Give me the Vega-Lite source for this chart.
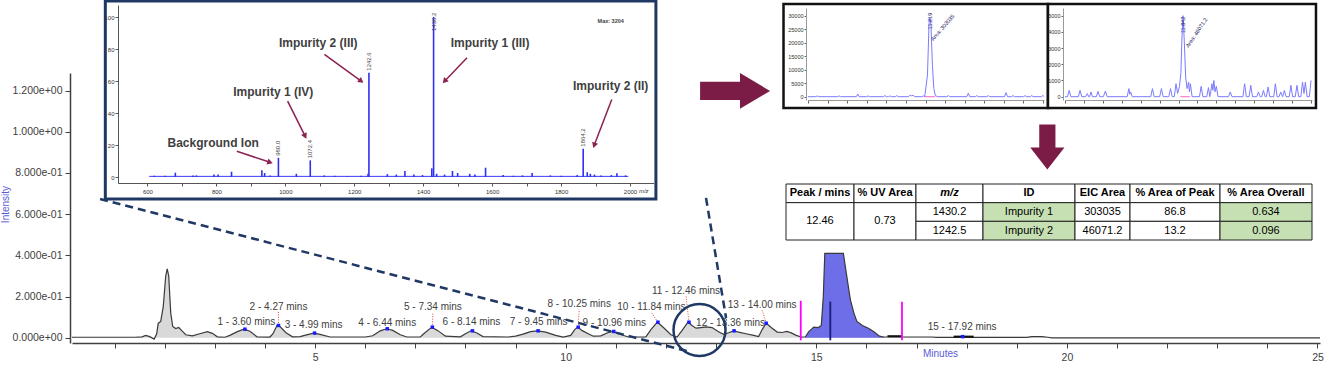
{
  "$schema": "https://vega.github.io/schema/vega-lite/v6.json",
  "width": 1327,
  "height": 367,
  "autosize": "none",
  "padding": 0,
  "background": "white",
  "config": {
    "view": {"stroke": null},
    "font": "Liberation Sans",
    "axis": {"grid": false, "labelFont": "Liberation Sans", "titleFont": "Liberation Sans", "labelFlush": false, "labelOverlap": false},
    "text": {"font": "Liberation Sans"}
  },
  "datasets": {
    "trace": [
      {"t":0.15,"v":0.003},{"t":1.4,"v":0.003},{"t":1.55,"v":0.005},{"t":1.62,"v":0.012},{"t":1.7,"v":0.006},{"t":1.79,"v":-0.006},{"t":1.84,"v":0.02},{"t":1.87,"v":0.07},{"t":1.92,"v":0.08},{"t":1.97,"v":0.15},{"t":2.02,"v":0.3},{"t":2.05,"v":0.335},{"t":2.08,"v":0.3},{"t":2.12,"v":0.12},{"t":2.16,"v":0.055},{"t":2.22,"v":0.045},{"t":2.28,"v":0.05},{"t":2.34,"v":0.035},{"t":2.42,"v":0.015},{"t":2.55,"v":0.01},{"t":2.7,"v":0.02},{"t":2.85,"v":0.03},{"t":2.95,"v":0.022},{"t":3.05,"v":0.005},{"t":3.2,"v":0.003},{"t":3.3,"v":0.012},{"t":3.45,"v":0.03},{"t":3.58,"v":0.042},{"t":3.7,"v":0.032},{"t":3.84,"v":0.005},{"t":4.1,"v":0.004},{"t":4.16,"v":0.02},{"t":4.24,"v":0.06},{"t":4.3,"v":0.055},{"t":4.42,"v":0.025},{"t":4.55,"v":0.005},{"t":4.7,"v":0.006},{"t":4.85,"v":0.016},{"t":4.97,"v":0.023},{"t":5.1,"v":0.017},{"t":5.3,"v":0.004},{"t":6.0,"v":0.004},{"t":6.15,"v":0.01},{"t":6.3,"v":0.034},{"t":6.43,"v":0.044},{"t":6.55,"v":0.036},{"t":6.7,"v":0.015},{"t":6.83,"v":0.004},{"t":7.1,"v":0.004},{"t":7.18,"v":0.022},{"t":7.33,"v":0.052},{"t":7.45,"v":0.035},{"t":7.6,"v":0.008},{"t":7.9,"v":0.005},{"t":8.0,"v":0.02},{"t":8.11,"v":0.034},{"t":8.22,"v":0.025},{"t":8.35,"v":0.006},{"t":8.85,"v":0.004},{"t":9.0,"v":0.008},{"t":9.15,"v":0.018},{"t":9.3,"v":0.03},{"t":9.44,"v":0.034},{"t":9.6,"v":0.028},{"t":9.8,"v":0.012},{"t":9.95,"v":0.004},{"t":10.1,"v":0.012},{"t":10.18,"v":0.04},{"t":10.24,"v":0.052},{"t":10.33,"v":0.035},{"t":10.45,"v":0.02},{"t":10.55,"v":0.008},{"t":10.7,"v":0.01},{"t":10.85,"v":0.026},{"t":10.94,"v":0.031},{"t":11.05,"v":0.02},{"t":11.25,"v":0.004},{"t":11.6,"v":0.005},{"t":11.7,"v":0.04},{"t":11.83,"v":0.076},{"t":11.95,"v":0.05},{"t":12.1,"v":0.015},{"t":12.22,"v":0.004},{"t":12.32,"v":0.035},{"t":12.44,"v":0.076},{"t":12.52,"v":0.06},{"t":12.6,"v":0.047},{"t":12.7,"v":0.05},{"t":12.8,"v":0.053},{"t":12.92,"v":0.05},{"t":13.05,"v":0.03},{"t":13.15,"v":0.017},{"t":13.25,"v":0.025},{"t":13.35,"v":0.034},{"t":13.45,"v":0.028},{"t":13.6,"v":0.02},{"t":13.75,"v":0.012},{"t":13.85,"v":0.006},{"t":13.92,"v":0.04},{"t":14.0,"v":0.071},{"t":14.1,"v":0.05},{"t":14.22,"v":0.028},{"t":14.32,"v":0.026},{"t":14.41,"v":0.031},{"t":14.5,"v":0.024},{"t":14.6,"v":0.012},{"t":14.7,"v":0.004},{"t":14.78,"v":0.004},{"t":14.85,"v":0.03},{"t":14.95,"v":0.052},{"t":15.04,"v":0.05},{"t":15.1,"v":0.06},{"t":15.14,"v":0.2},{"t":15.17,"v":0.41},{"t":15.54,"v":0.41},{"t":15.62,"v":0.28},{"t":15.68,"v":0.185},{"t":15.75,"v":0.12},{"t":15.81,"v":0.08},{"t":15.92,"v":0.06},{"t":16.04,"v":0.047},{"t":16.15,"v":0.03},{"t":16.26,"v":0.008},{"t":16.35,"v":0.004},{"t":17.3,"v":0.004},{"t":17.4,"v":0.002},{"t":19.2,"v":0.002},{"t":19.3,"v":0.006},{"t":19.5,"v":0.006},{"t":19.62,"v":0.003},{"t":19.7,"v":0.0},{"t":25.05,"v":0.0}
    ],
    "peaks": [
      {"n":1,"rt":3.60,"h":0.042,"lx":3.63,"lb":0.052,"leader":false,"label":"1 - 3.60 mins"},
      {"n":2,"rt":4.27,"h":0.06,"lx":4.27,"lb":0.126,"leader":true,"label":"2 - 4.27 mins"},
      {"n":3,"rt":4.99,"h":0.023,"lx":4.97,"lb":0.037,"leader":false,"label":"3 - 4.99 mins"},
      {"n":4,"rt":6.44,"h":0.044,"lx":6.44,"lb":0.05,"leader":false,"label":"4 - 6.44 mins"},
      {"n":5,"rt":7.34,"h":0.052,"lx":7.35,"lb":0.123,"leader":true,"label":"5 - 7.34 mins"},
      {"n":6,"rt":8.14,"h":0.034,"lx":8.12,"lb":0.053,"leader":false,"label":"6 - 8.14 mins"},
      {"n":7,"rt":9.45,"h":0.034,"lx":9.46,"lb":0.053,"leader":false,"label":"7 - 9.45 mins"},
      {"n":8,"rt":10.25,"h":0.052,"lx":10.27,"lb":0.138,"leader":true,"label":"8 - 10.25 mins"},
      {"n":9,"rt":10.96,"h":0.031,"lx":10.97,"lb":0.05,"leader":false,"label":"9 - 10.96 mins"},
      {"n":10,"rt":11.84,"h":0.076,"lx":11.71,"lb":0.123,"leader":true,"label":"10 - 11.84 mins"},
      {"n":11,"rt":12.46,"h":0.076,"lx":12.40,"lb":0.204,"leader":true,"label":"11 - 12.46 mins"},
      {"n":12,"rt":13.36,"h":0.034,"lx":13.29,"lb":0.05,"leader":false,"label":"12 - 13.36 mins"},
      {"n":13,"rt":14.00,"h":0.071,"lx":13.92,"lb":0.134,"leader":true,"label":"13 - 14.00 mins"},
      {"n":15,"rt":17.92,"h":0.006,"lx":17.91,"lb":0.026,"leader":false,"label":"15 - 17.92 mins"}
    ],
    "basesegs": [{"t0":16.42,"t1":16.71,"v":0.008},{"t0":17.74,"t1":18.14,"v":0.006}],
    "markers": [
      {"t":14.69,"lo":-0.012,"hi":0.18,"kind":"limit"},
      {"t":16.71,"lo":-0.012,"hi":0.175,"kind":"limit"},
      {"t":15.28,"lo":-0.012,"hi":0.176,"kind":"apex"}
    ],
    "zoomlines": [
      {"t0":0.71,"v0":0.674,"t1":12.42,"v1":-0.064},
      {"t0":12.8,"v0":0.679,"t1":13.2,"v1":0.096}
    ],
    "zoomcircle": [{"t":12.67,"v":0.038}],
    "rightarrow": [{"t":13.38,"v":1.198}],
    "downarrow": [{"t":19.61,"v":0.926}],
    "insetframe": [{"x0":477.8,"x1":2075.2,"y0":-13.75,"y1":110}],
    "msbase": [{"x0":605,"x1":1995,"y":0.4}],
    "msmax": [{"mz":1944,"pct":97.5,"text":"Max: 3204"}],
    "msunit": [{"mz":2040,"pct":-9,"text":"m/z"}],
    "ms": [
      {"mz":620,"pct":0.8},{"mz":651,"pct":0.8},{"mz":681,"pct":2.7},{"mz":732,"pct":1},{"mz":742,"pct":1},{"mz":793,"pct":1.5},{"mz":805,"pct":1.5},{"mz":844,"pct":3.3},{"mz":932,"pct":4.2},{"mz":940,"pct":2.5},{"mz":956,"pct":1},{"mz":980,"pct":12},{"mz":1032,"pct":2},{"mz":1072.4,"pct":10.4},{"mz":1113,"pct":1},{"mz":1144,"pct":0.8},{"mz":1180,"pct":0.5},{"mz":1220,"pct":0.8},{"mz":1240,"pct":2},{"mz":1242.6,"pct":65.2},{"mz":1296,"pct":1.8},{"mz":1322,"pct":1.5},{"mz":1347,"pct":3.75},{"mz":1373,"pct":1.5},{"mz":1398,"pct":1.2},{"mz":1425,"pct":5.4},{"mz":1430.2,"pct":100},{"mz":1439,"pct":2},{"mz":1462,"pct":1.5},{"mz":1485,"pct":3.75},{"mz":1500,"pct":2.5},{"mz":1535,"pct":2},{"mz":1550,"pct":1.5},{"mz":1581,"pct":5.8},{"mz":1632,"pct":1.2},{"mz":1662,"pct":0.8},{"mz":1688,"pct":1},{"mz":1716,"pct":2.5},{"mz":1769,"pct":1},{"mz":1800,"pct":0.8},{"mz":1847,"pct":1.2},{"mz":1864.2,"pct":17.7},{"mz":1876,"pct":3},{"mz":1885,"pct":2},{"mz":1897,"pct":1.5},{"mz":1916,"pct":1},{"mz":1946,"pct":1.2},{"mz":1962,"pct":2.3},{"mz":1987,"pct":1}
    ],
    "mslab": [
      {"mz":980,"pct":12,"label":"980.0"},
      {"mz":1072.4,"pct":10.4,"label":"1072.4"},
      {"mz":1242.6,"pct":65.2,"label":"1242.6"},
      {"mz":1430.2,"pct":90,"label":"1430.2"},
      {"mz":1864.2,"pct":17.7,"label":"1864.2"}
    ],
    "msnote": [
      {"text":"Background Ion","mz":790.6,"pct":21.4},
      {"text":"Impurity 1 (IV)","mz":965,"pct":53.3},
      {"text":"Impurity 2 (III)","mz":1095.6,"pct":83.5},
      {"text":"Impurity 1 (III)","mz":1594.2,"pct":83.5},
      {"text":"Impurity 2 (II)","mz":1944,"pct":56.9}
    ],
    "msarrow": [
      {"id":"bg","mz":859.3,"pct":16.1,"mz2":955.8,"pct2":9.2},
      {"id":"i1iv","mz":1006.7,"pct":47.4,"mz2":1057.5,"pct2":25.5},
      {"id":"i2iii","mz":1113.4,"pct":76.6,"mz2":1220.2,"pct2":59.9},
      {"id":"i1iii","mz":1527.2,"pct":74.5,"mz2":1462.1,"pct2":59.9},
      {"id":"i2ii","mz":1947.1,"pct":48.4,"mz2":1896.2,"pct2":19.8}
    ],
    "eic1frame": [{"x0":-2.5,"x1":24.5,"y0":-4185,"y1":34333}],
    "eic1base": [{"x0":11.9,"x1":13.0,"y":0}],
    "eic1rt": [{"t":12.46,"c":25000,"text":"11.219"}],
    "eic1area": [{"t":12.63,"c":21000,"text":"Area: 303035"}],
    "eic2frame": [{"x0":-1.8,"x1":26.52,"y0":-698,"y1":5722}],
    "eic2base": [{"x0":12.2,"x1":13.2,"y":0}],
    "eic2rt": [{"t":12.47,"c":3930,"text":"11.842"}],
    "eic2area": [{"t":12.87,"c":3070,"text":"Area: 46071.2"}],
    "eic1": [
      {"t":0,"c":0},{"t":0.8,"c":0},{"t":0.95,"c":300},{"t":1.1,"c":0},{"t":3.02,"c":0},{"t":3.17,"c":300},{"t":3.32,"c":0},{"t":4.93,"c":0},{"t":5.08,"c":1000},{"t":5.23,"c":0},{"t":5.98,"c":0},{"t":6.13,"c":300},{"t":6.28,"c":0},{"t":7.71,"c":0},{"t":7.86,"c":400},{"t":8.01,"c":0},{"t":8.22,"c":0},{"t":8.37,"c":300},{"t":8.52,"c":0},{"t":8.91,"c":0},{"t":9.06,"c":400},{"t":9.21,"c":0},{"t":10.27,"c":0},{"t":10.42,"c":600},{"t":10.57,"c":350},{"t":10.75,"c":500},{"t":10.9,"c":0},{"t":11.62,"c":0},{"t":11.77,"c":300},{"t":11.92,"c":0},{"t":12.2,"c":8000},{"t":12.36,"c":27000},{"t":12.46,"c":29500},{"t":12.56,"c":26000},{"t":12.7,"c":12000},{"t":12.85,"c":3000},{"t":13.0,"c":500},{"t":13.2,"c":0},{"t":14.18,"c":0},{"t":14.33,"c":400},{"t":14.48,"c":0},{"t":16.22,"c":0},{"t":16.37,"c":1300},{"t":16.52,"c":0},{"t":17.08,"c":0},{"t":17.23,"c":400},{"t":17.38,"c":0},{"t":18.26,"c":0},{"t":18.41,"c":400},{"t":18.56,"c":0},{"t":20.07,"c":0},{"t":20.22,"c":1500},{"t":20.37,"c":0},{"t":20.78,"c":0},{"t":20.93,"c":400},{"t":21.08,"c":0},{"t":22.01,"c":0},{"t":22.16,"c":400},{"t":22.31,"c":0},{"t":22.69,"c":0},{"t":22.84,"c":400},{"t":22.99,"c":0},{"t":23.85,"c":0},{"t":24.0,"c":500},{"t":24.1,"c":0}
    ],
    "eic2": [
      {"t":0,"c":0},{"t":0.26,"c":0},{"t":0.44,"c":390},{"t":0.62,"c":0},{"t":1.41,"c":0},{"t":1.59,"c":390},{"t":1.77,"c":0},{"t":2.18,"c":0},{"t":2.36,"c":190},{"t":2.5,"c":0},{"t":2.6,"c":0},{"t":2.75,"c":290},{"t":2.9,"c":0},{"t":3.31,"c":0},{"t":3.49,"c":330},{"t":3.67,"c":0},{"t":4.05,"c":0},{"t":4.27,"c":350},{"t":4.45,"c":0},{"t":6.57,"c":0},{"t":6.75,"c":500},{"t":6.85,"c":150},{"t":6.94,"c":290},{"t":7.1,"c":0},{"t":9.06,"c":0},{"t":9.24,"c":500},{"t":9.42,"c":0},{"t":10.01,"c":0},{"t":10.19,"c":500},{"t":10.37,"c":0},{"t":10.97,"c":0},{"t":11.15,"c":500},{"t":11.33,"c":0},{"t":11.55,"c":0},{"t":11.73,"c":800},{"t":11.9,"c":200},{"t":12.1,"c":640},{"t":12.25,"c":1500},{"t":12.35,"c":3500},{"t":12.47,"c":5000},{"t":12.6,"c":3500},{"t":12.75,"c":1200},{"t":12.9,"c":500},{"t":13.06,"c":900},{"t":13.15,"c":300},{"t":13.25,"c":800},{"t":13.43,"c":0},{"t":14.21,"c":0},{"t":14.39,"c":640},{"t":14.57,"c":0},{"t":14.98,"c":0},{"t":15.16,"c":560},{"t":15.3,"c":0},{"t":15.4,"c":300},{"t":15.53,"c":800},{"t":15.63,"c":400},{"t":15.73,"c":1000},{"t":15.85,"c":300},{"t":15.99,"c":640},{"t":16.17,"c":0},{"t":17.28,"c":0},{"t":17.46,"c":290},{"t":17.64,"c":0},{"t":18.8,"c":0},{"t":18.98,"c":800},{"t":19.16,"c":0},{"t":19.45,"c":0},{"t":19.63,"c":700},{"t":19.81,"c":0},{"t":20.26,"c":0},{"t":20.44,"c":290},{"t":20.62,"c":0},{"t":20.79,"c":0},{"t":20.97,"c":390},{"t":21.15,"c":0},{"t":21.28,"c":0},{"t":21.46,"c":600},{"t":21.64,"c":0},{"t":22.05,"c":0},{"t":22.23,"c":800},{"t":22.41,"c":0},{"t":22.62,"c":0},{"t":22.8,"c":290},{"t":22.98,"c":0},{"t":23.0,"c":0},{"t":23.18,"c":390},{"t":23.36,"c":0},{"t":23.69,"c":0},{"t":23.87,"c":700},{"t":24.05,"c":0},{"t":24.33,"c":0},{"t":24.51,"c":700},{"t":24.69,"c":0},{"t":24.92,"c":0},{"t":25.1,"c":900},{"t":25.25,"c":200},{"t":25.4,"c":900},{"t":25.58,"c":0},{"t":25.82,"c":0},{"t":26.0,"c":1000}
    ],
    "cells": [
      {"text":"Peak / mins","part":"head","hl":"no","x0":0,"x1":12.93,"xm":6.46,"r0":0,"r1":1,"rm":0.5},
      {"text":"% UV Area","part":"head","hl":"no","x0":12.93,"x1":24.71,"xm":18.82,"r0":0,"r1":1,"rm":0.5},
      {"text":"m/z","part":"headital","hl":"no","x0":24.71,"x1":37.45,"xm":31.08,"r0":0,"r1":1,"rm":0.5},
      {"text":"ID","part":"head","hl":"no","x0":37.45,"x1":54.94,"xm":46.2,"r0":0,"r1":1,"rm":0.5},
      {"text":"EIC Area","part":"head","hl":"no","x0":54.94,"x1":65.4,"xm":60.17,"r0":0,"r1":1,"rm":0.5},
      {"text":"% Area of Peak","part":"head","hl":"no","x0":65.4,"x1":82.51,"xm":73.95,"r0":0,"r1":1,"rm":0.5},
      {"text":"% Area Overall","part":"head","hl":"no","x0":82.51,"x1":100,"xm":91.25,"r0":0,"r1":1,"rm":0.5},
      {"text":"12.46","part":"body","hl":"no","x0":0,"x1":12.93,"xm":6.46,"r0":1,"r1":3,"rm":2},
      {"text":"0.73","part":"body","hl":"no","x0":12.93,"x1":24.71,"xm":18.82,"r0":1,"r1":3,"rm":2},
      {"text":"1430.2","part":"body","hl":"no","x0":24.71,"x1":37.45,"xm":31.08,"r0":1,"r1":2,"rm":1.5},
      {"text":"Impurity 1","part":"body","hl":"yes","x0":37.45,"x1":54.94,"xm":46.2,"r0":1,"r1":2,"rm":1.5},
      {"text":"303035","part":"body","hl":"no","x0":54.94,"x1":65.4,"xm":60.17,"r0":1,"r1":2,"rm":1.5},
      {"text":"86.8","part":"body","hl":"no","x0":65.4,"x1":82.51,"xm":73.95,"r0":1,"r1":2,"rm":1.5},
      {"text":"0.634","part":"body","hl":"yes","x0":82.51,"x1":100,"xm":91.25,"r0":1,"r1":2,"rm":1.5},
      {"text":"1242.5","part":"body","hl":"no","x0":24.71,"x1":37.45,"xm":31.08,"r0":2,"r1":3,"rm":2.5},
      {"text":"Impurity 2","part":"body","hl":"yes","x0":37.45,"x1":54.94,"xm":46.2,"r0":2,"r1":3,"rm":2.5},
      {"text":"46071.2","part":"body","hl":"no","x0":54.94,"x1":65.4,"xm":60.17,"r0":2,"r1":3,"rm":2.5},
      {"text":"13.2","part":"body","hl":"no","x0":65.4,"x1":82.51,"xm":73.95,"r0":2,"r1":3,"rm":2.5},
      {"text":"0.096","part":"body","hl":"yes","x0":82.51,"x1":100,"xm":91.25,"r0":2,"r1":3,"rm":2.5}
    ]
  },
  "resolve": {"scale": {"x": "independent", "y": "independent"}, "axis": {"x": "independent", "y": "independent"}},
  "layer": [
    {
      "layer": [
        {
          "data": {"name": "trace"},
          "mark": {"type": "area", "color": "#d9d9d9"},
          "encoding": {
            "x": {"field": "t", "type": "quantitative",
              "scale": {"domain": [0.15, 25.05], "range": [72, 1320], "zero": false, "nice": false},
              "axis": {"orient": "bottom", "offset": -24, "values": [1,2,3,4,5,6,7,8,9,10,11,12,13,14,15,16,17,18,19,20,21,22,23,24,25],
                "labelExpr": "datum.value % 5 === 0 ? datum.label : ''",
                "labelFontSize": 10.5, "labelColor": "#404040", "labelPadding": 4,
                "tickSize": 5, "tickColor": "#404040", "domainColor": "#404040", "domainWidth": 1.5,
                "title": "Minutes", "titleX": 940, "titleY": 10, "titleAlign": "center", "titleBaseline": "middle",
                "titleColor": "#5b5bd6", "titleFontSize": 10, "titleFontWeight": "normal"}},
            "y": {"field": "v", "type": "quantitative",
              "scale": {"domain": [-0.025, 1.285], "range": [343, 73], "zero": false, "nice": false},
              "axis": {"orient": "left", "offset": -70,
                "values": [0,0.05,0.1,0.15,0.2,0.25,0.3,0.35,0.4,0.45,0.5,0.55,0.6,0.65,0.7,0.75,0.8,0.85,0.9,0.95,1,1.05,1.1,1.15,1.2,1.25],
                "labelExpr": "abs(datum.value*5 - round(datum.value*5)) < 0.001 ? replace(replace(format(datum.value, '.3e'), 'e+', 'e+0'), 'e-', 'e-0') : ''",
                "labelFontSize": 10.5, "labelColor": "#404040", "labelPadding": 3,
                "tickSize": 5, "tickColor": "#404040", "domainColor": "#404040", "domainWidth": 1.5,
                "title": "Intensity", "titleX": -64.5, "titleY": 204, "titleAngle": -90, "titleAlign": "center", "titleBaseline": "middle",
                "titleColor": "#5b5bd6", "titleFontSize": 10, "titleFontWeight": "normal"}}
          }
        },
        {
          "data": {"name": "trace"},
          "transform": [{"filter": "datum.t >= 14.78 && datum.t <= 16.35"}],
          "mark": {"type": "area", "color": "#6e6ee8"},
          "encoding": {"x": {"field": "t", "type": "quantitative"}, "y": {"field": "v", "type": "quantitative"}}
        },
        {
          "data": {"name": "trace"},
          "mark": {"type": "line", "color": "#3a3a3a", "strokeWidth": 1.2},
          "encoding": {"x": {"field": "t", "type": "quantitative"}, "y": {"field": "v", "type": "quantitative"}}
        },
        {
          "data": {"name": "basesegs"},
          "mark": {"type": "rule", "color": "#111111", "strokeWidth": 2},
          "encoding": {"x": {"field": "t0", "type": "quantitative"}, "x2": {"field": "t1"}, "y": {"field": "v", "type": "quantitative"}}
        },
        {
          "data": {"name": "peaks"},
          "transform": [{"filter": "datum.leader"}],
          "mark": {"type": "rule", "color": "#e04848", "strokeWidth": 1, "strokeDash": [1, 1.5]},
          "encoding": {"x": {"field": "rt", "type": "quantitative"}, "y": {"field": "h", "type": "quantitative"}, "x2": {"field": "lx"}, "y2": {"field": "lb"}}
        },
        {
          "data": {"name": "peaks"},
          "mark": {"type": "point", "shape": "square", "filled": true, "size": 12, "color": "#1a1aff", "opacity": 1},
          "encoding": {"x": {"field": "rt", "type": "quantitative"}, "y": {"field": "h", "type": "quantitative"}}
        },
        {
          "data": {"name": "peaks"},
          "mark": {"type": "text", "fontSize": 10, "color": "#404040", "align": "center", "baseline": "bottom"},
          "encoding": {"x": {"field": "lx", "type": "quantitative"}, "y": {"field": "lb", "type": "quantitative"}, "text": {"field": "label", "type": "nominal"}}
        },
        {
          "data": {"name": "markers"},
          "transform": [{"filter": "datum.kind === 'limit'"}],
          "mark": {"type": "rule", "color": "#ff00ff", "strokeWidth": 1.8},
          "encoding": {"x": {"field": "t", "type": "quantitative"}, "y": {"field": "lo", "type": "quantitative"}, "y2": {"field": "hi"}}
        },
        {
          "data": {"name": "markers"},
          "transform": [{"filter": "datum.kind === 'apex'"}],
          "mark": {"type": "rule", "color": "#1a1a80", "strokeWidth": 1.8},
          "encoding": {"x": {"field": "t", "type": "quantitative"}, "y": {"field": "lo", "type": "quantitative"}, "y2": {"field": "hi"}}
        },
        {
          "data": {"name": "zoomlines"},
          "mark": {"type": "rule", "color": "#1f3864", "strokeWidth": 2.5, "strokeDash": [8, 5]},
          "encoding": {"x": {"field": "t0", "type": "quantitative"}, "y": {"field": "v0", "type": "quantitative"}, "x2": {"field": "t1"}, "y2": {"field": "v1"}}
        },
        {
          "data": {"name": "zoomcircle"},
          "mark": {"type": "point", "shape": "circle", "filled": false, "size": 2704, "stroke": "#1f3864", "strokeWidth": 2.5, "opacity": 1},
          "encoding": {"x": {"field": "t", "type": "quantitative"}, "y": {"field": "v", "type": "quantitative"}}
        },
        {
          "data": {"name": "rightarrow"},
          "mark": {"type": "point", "shape": "M-1,-0.26L0.14,-0.26L0.14,-0.51L1,0L0.14,0.51L0.14,0.26L-1,0.26Z", "filled": true, "size": 4900, "color": "#7b1c46", "opacity": 1},
          "encoding": {"x": {"field": "t", "type": "quantitative"}, "y": {"field": "v", "type": "quantitative"}}
        },
        {
          "data": {"name": "downarrow"},
          "mark": {"type": "point", "shape": "M-0.36,-1L0.36,-1L0.36,0.02L0.76,0.02L0,1L-0.76,0.02L-0.36,0.02Z", "filled": true, "size": 2025, "color": "#7b1c46", "opacity": 1},
          "encoding": {"x": {"field": "t", "type": "quantitative"}, "y": {"field": "v", "type": "quantitative"}}
        }
      ]
    },
    {
      "layer": [
        {
          "data": {"name": "insetframe"},
          "mark": {"type": "rect", "fill": "white", "stroke": "#1f3864", "strokeWidth": 3},
          "encoding": {
            "x": {"field": "x0", "type": "quantitative",
              "scale": {"domain": [528.8, 2054], "range": [117.9, 653.6], "zero": false, "nice": false},
              "axis": {"orient": "bottom", "offset": -184, "zindex": 1,
                "values": [600,700,800,900,1000,1100,1200,1300,1400,1500,1600,1700,1800,1900,2000],
                "labelExpr": "datum.value % 200 === 0 ? datum.label : ''",
                "format": "d", "labelFontSize": 6, "labelColor": "#333333", "labelPadding": 2,
                "tickSize": 3, "tickColor": "#555555", "domainColor": "#555555", "domainWidth": 1, "title": null}},
            "x2": {"field": "x1"},
            "y": {"field": "y0", "type": "quantitative",
              "scale": {"domain": [-3.75, 107.5], "range": [183, 5], "zero": false, "nice": false},
              "axis": {"orient": "left", "offset": -118, "zindex": 1,
                "values": [0,10,20,30,40,50,60,70,80,90,100],
                "labelExpr": "datum.value % 20 === 0 ? datum.label : ''",
                "labelFontSize": 6, "labelColor": "#333333", "labelPadding": 1,
                "tickSize": 3, "tickColor": "#555555", "domainColor": "#555555", "domainWidth": 1, "title": null}},
            "y2": {"field": "y1"}
          }
        },
        {
          "data": {"name": "msbase"},
          "mark": {"type": "rule", "color": "#3b3bf5", "strokeWidth": 1},
          "encoding": {"x": {"field": "x0", "type": "quantitative"}, "x2": {"field": "x1"}, "y": {"field": "y", "type": "quantitative"}}
        },
        {
          "data": {"name": "ms"},
          "mark": {"type": "bar", "color": "#3030f0", "size": 1.6},
          "encoding": {"x": {"field": "mz", "type": "quantitative"}, "y": {"field": "pct", "type": "quantitative"}}
        },
        {
          "data": {"name": "mslab"},
          "mark": {"type": "text", "angle": -90, "align": "left", "baseline": "middle", "dx": 2, "fontSize": 6, "color": "#444444"},
          "encoding": {"x": {"field": "mz", "type": "quantitative"}, "y": {"field": "pct", "type": "quantitative"}, "text": {"field": "label", "type": "nominal"}}
        },
        {
          "data": {"name": "msnote"},
          "mark": {"type": "text", "fontSize": 12, "fontWeight": "bold", "color": "#404040", "align": "center", "baseline": "middle"},
          "encoding": {"x": {"field": "mz", "type": "quantitative"}, "y": {"field": "pct", "type": "quantitative"}, "text": {"field": "text", "type": "nominal"}}
        },
        {
          "data": {"name": "msarrow"},
          "mark": {"type": "rule", "color": "#8b2252", "strokeWidth": 1.5},
          "encoding": {"x": {"field": "mz", "type": "quantitative"}, "y": {"field": "pct", "type": "quantitative"}, "x2": {"field": "mz2"}, "y2": {"field": "pct2"}}
        },
        {
          "data": {"name": "msarrow"}, "transform": [{"filter": "datum.id === 'bg'"}],
          "mark": {"type": "point", "shape": "triangle-right", "angle": 19, "filled": true, "size": 40, "color": "#8b2252", "opacity": 1},
          "encoding": {"x": {"field": "mz2", "type": "quantitative"}, "y": {"field": "pct2", "type": "quantitative"}}
        },
        {
          "data": {"name": "msarrow"}, "transform": [{"filter": "datum.id === 'i1iv'"}],
          "mark": {"type": "point", "shape": "triangle-right", "angle": 64, "filled": true, "size": 40, "color": "#8b2252", "opacity": 1},
          "encoding": {"x": {"field": "mz2", "type": "quantitative"}, "y": {"field": "pct2", "type": "quantitative"}}
        },
        {
          "data": {"name": "msarrow"}, "transform": [{"filter": "datum.id === 'i2iii'"}],
          "mark": {"type": "point", "shape": "triangle-right", "angle": 37, "filled": true, "size": 40, "color": "#8b2252", "opacity": 1},
          "encoding": {"x": {"field": "mz2", "type": "quantitative"}, "y": {"field": "pct2", "type": "quantitative"}}
        },
        {
          "data": {"name": "msarrow"}, "transform": [{"filter": "datum.id === 'i1iii'"}],
          "mark": {"type": "point", "shape": "triangle-right", "angle": 132, "filled": true, "size": 40, "color": "#8b2252", "opacity": 1},
          "encoding": {"x": {"field": "mz2", "type": "quantitative"}, "y": {"field": "pct2", "type": "quantitative"}}
        },
        {
          "data": {"name": "msarrow"}, "transform": [{"filter": "datum.id === 'i2ii'"}],
          "mark": {"type": "point", "shape": "triangle-right", "angle": 110, "filled": true, "size": 40, "color": "#8b2252", "opacity": 1},
          "encoding": {"x": {"field": "mz2", "type": "quantitative"}, "y": {"field": "pct2", "type": "quantitative"}}
        },
        {
          "data": {"name": "msmax"},
          "mark": {"type": "text", "fontSize": 5.5, "fontWeight": "bold", "color": "#444444", "align": "center"},
          "encoding": {"x": {"field": "mz", "type": "quantitative"}, "y": {"field": "pct", "type": "quantitative"}, "text": {"field": "text", "type": "nominal"}}
        },
        {
          "data": {"name": "msunit"},
          "mark": {"type": "text", "fontSize": 6, "fontStyle": "italic", "color": "#333333", "align": "center"},
          "encoding": {"x": {"field": "mz", "type": "quantitative"}, "y": {"field": "pct", "type": "quantitative"}, "text": {"field": "text", "type": "nominal"}}
        }
      ]
    },
    {
      "layer": [
        {
          "data": {"name": "eic1frame"},
          "mark": {"type": "rect", "fill": "white", "stroke": "#111111", "strokeWidth": 2.5},
          "encoding": {
            "x": {"field": "x0", "type": "quantitative",
              "scale": {"domain": [0, 24.1], "range": [808, 1044], "zero": false, "nice": false},
              "axis": {"orient": "bottom", "offset": -267, "zindex": 1, "tickCount": 12, "labels": false, "tickSize": 3, "tickColor": "#666666", "domainColor": "#999999", "domainWidth": 1, "title": null}},
            "x2": {"field": "x1"},
            "y": {"field": "y0", "type": "quantitative",
              "scale": {"domain": [-1222, 32852], "range": [100, 8], "zero": false, "nice": false},
              "axis": {"orient": "left", "offset": -806, "zindex": 1, "values": [0,5000,10000,15000,20000,25000,30000], "format": "d",
                "labelFontSize": 5.5, "labelColor": "#333333", "labelPadding": 1, "tickSize": 2, "tickColor": "#666666", "domainColor": "#999999", "domainWidth": 1, "title": null}},
            "y2": {"field": "y1"}
          }
        },
        {
          "data": {"name": "eic1base"},
          "mark": {"type": "rule", "color": "#ff66cc", "strokeWidth": 1},
          "encoding": {"x": {"field": "x0", "type": "quantitative"}, "x2": {"field": "x1"}, "y": {"field": "y", "type": "quantitative"}}
        },
        {
          "data": {"name": "eic1"},
          "mark": {"type": "line", "color": "#7b7bff", "strokeWidth": 1},
          "encoding": {"x": {"field": "t", "type": "quantitative"}, "y": {"field": "c", "type": "quantitative"}}
        },
        {
          "data": {"name": "eic1rt"},
          "mark": {"type": "text", "angle": -90, "align": "left", "baseline": "middle", "fontSize": 5.5, "color": "#202060"},
          "encoding": {"x": {"field": "t", "type": "quantitative"}, "y": {"field": "c", "type": "quantitative"}, "text": {"field": "text", "type": "nominal"}}
        },
        {
          "data": {"name": "eic1area"},
          "mark": {"type": "text", "angle": -49, "align": "left", "baseline": "middle", "fontSize": 5.5, "color": "#202060"},
          "encoding": {"x": {"field": "t", "type": "quantitative"}, "y": {"field": "c", "type": "quantitative"}, "text": {"field": "text", "type": "nominal"}}
        }
      ]
    },
    {
      "layer": [
        {
          "data": {"name": "eic2frame"},
          "mark": {"type": "rect", "fill": "white", "stroke": "#111111", "strokeWidth": 2.5},
          "encoding": {
            "x": {"field": "x0", "type": "quantitative",
              "scale": {"domain": [0, 26.1], "range": [1065, 1312], "zero": false, "nice": false},
              "axis": {"orient": "bottom", "offset": -267, "zindex": 1, "tickCount": 13, "labels": false, "tickSize": 3, "tickColor": "#666666", "domainColor": "#999999", "domainWidth": 1, "title": null}},
            "x2": {"field": "x1"},
            "y": {"field": "y0", "type": "quantitative",
              "scale": {"domain": [-204, 5475], "range": [100, 8], "zero": false, "nice": false},
              "axis": {"orient": "left", "offset": -1063, "zindex": 1, "values": [0,1000,2000,3000,4000,5000], "format": "d",
                "labelFontSize": 5.5, "labelColor": "#333333", "labelPadding": 1, "tickSize": 2, "tickColor": "#666666", "domainColor": "#999999", "domainWidth": 1, "title": null}},
            "y2": {"field": "y1"}
          }
        },
        {
          "data": {"name": "eic2base"},
          "mark": {"type": "rule", "color": "#ff66cc", "strokeWidth": 1},
          "encoding": {"x": {"field": "x0", "type": "quantitative"}, "x2": {"field": "x1"}, "y": {"field": "y", "type": "quantitative"}}
        },
        {
          "data": {"name": "eic2"},
          "mark": {"type": "line", "color": "#7b7bff", "strokeWidth": 1},
          "encoding": {"x": {"field": "t", "type": "quantitative"}, "y": {"field": "c", "type": "quantitative"}}
        },
        {
          "data": {"name": "eic2rt"},
          "mark": {"type": "text", "angle": -90, "align": "left", "baseline": "middle", "fontSize": 5.5, "color": "#202060"},
          "encoding": {"x": {"field": "t", "type": "quantitative"}, "y": {"field": "c", "type": "quantitative"}, "text": {"field": "text", "type": "nominal"}}
        },
        {
          "data": {"name": "eic2area"},
          "mark": {"type": "text", "angle": -56, "align": "left", "baseline": "middle", "fontSize": 5.5, "color": "#202060"},
          "encoding": {"x": {"field": "t", "type": "quantitative"}, "y": {"field": "c", "type": "quantitative"}, "text": {"field": "text", "type": "nominal"}}
        }
      ]
    },
    {
      "data": {"name": "cells"},
      "layer": [
        {
          "mark": {"type": "rect", "stroke": "#222222", "strokeWidth": 1},
          "encoding": {
            "x": {"field": "x0", "type": "quantitative", "scale": {"domain": [0, 100], "range": [786, 1312], "zero": false, "nice": false}, "axis": null},
            "x2": {"field": "x1"},
            "y": {"field": "r0", "type": "quantitative", "scale": {"domain": [0, 3], "range": [184, 240], "zero": false, "nice": false}, "axis": null},
            "y2": {"field": "r1"},
            "fill": {"field": "hl", "type": "nominal", "scale": {"domain": ["no", "yes"], "range": ["#ffffff", "#c6e0b4"]}, "legend": null}
          }
        },
        {
          "transform": [{"filter": "datum.part === 'head'"}],
          "mark": {"type": "text", "fontSize": 11, "fontWeight": "bold", "color": "#000000", "align": "center", "baseline": "middle"},
          "encoding": {"x": {"field": "xm", "type": "quantitative", "axis": null}, "y": {"field": "rm", "type": "quantitative", "axis": null}, "text": {"field": "text", "type": "nominal"}}
        },
        {
          "transform": [{"filter": "datum.part === 'headital'"}],
          "mark": {"type": "text", "fontSize": 11, "fontWeight": "bold", "fontStyle": "italic", "color": "#000000", "align": "center", "baseline": "middle"},
          "encoding": {"x": {"field": "xm", "type": "quantitative", "axis": null}, "y": {"field": "rm", "type": "quantitative", "axis": null}, "text": {"field": "text", "type": "nominal"}}
        },
        {
          "transform": [{"filter": "datum.part === 'body'"}],
          "mark": {"type": "text", "fontSize": 11, "color": "#000000", "align": "center", "baseline": "middle"},
          "encoding": {"x": {"field": "xm", "type": "quantitative", "axis": null}, "y": {"field": "rm", "type": "quantitative", "axis": null}, "text": {"field": "text", "type": "nominal"}}
        }
      ]
    }
  ]
}
